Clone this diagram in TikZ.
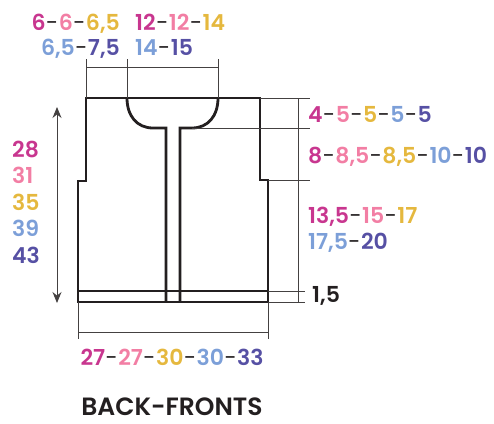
\documentclass[tikz,border=0pt]{standalone}
\usepackage{fontspec}
\setmainfont{Poppins}[BoldFont={Poppins SemiBold}]
\usetikzlibrary{arrows.meta}
\definecolor{sizeA}{HTML}{C8368F}
\definecolor{sizeB}{HTML}{F27EA4}
\definecolor{sizeC}{HTML}{E5B83E}
\definecolor{sizeD}{HTML}{7C9FD8}
\definecolor{sizeE}{HTML}{5650A4}
\definecolor{ink}{HTML}{231F20}
\newcommand{\sA}[1]{\textcolor{sizeA}{#1}}
\newcommand{\sB}[1]{\textcolor{sizeB}{#1}}
\newcommand{\sC}[1]{\textcolor{sizeC}{#1}}
\newcommand{\sD}[1]{\textcolor{sizeD}{#1}}
\newcommand{\sE}[1]{\textcolor{sizeE}{#1}}
\newcommand{\hy}{\textcolor{ink}{\mdseries\kern0.5pt-\kern0.5pt}}
\begin{document}
\begin{tikzpicture}[x=1pt,y=-1pt,outline/.style={draw=ink,line width=2.8pt,line join=miter},dim line/.style={draw=ink!85,line width=0.9pt},size label/.style={inner sep=0pt,text=ink,font=\fontsize{22}{26}\selectfont\bfseries}]
\useasboundingbox (0,0) rectangle (494,423);
% garment outline
\coordinate (tl) at (86,98);
\coordinate (tr) at (260,98);
\coordinate (rs) at (260,180);
\coordinate (rs2) at (268,180);
\coordinate (br) at (268,302);
\coordinate (bl) at (78,302);
\coordinate (ls) at (78,181);
\coordinate (ls2) at (86,181);
\coordinate (nl) at (127,98);
\coordinate (nr) at (218,98);
\coordinate (nlb) at (153,128);
\coordinate (nrb) at (192,128);
\coordinate (pl) at (166,128);
\coordinate (pr) at (180,128);
\coordinate (plb) at (166,302);
\coordinate (prb) at (180,302);
\coordinate (rl) at (78,291);
\coordinate (rr) at (268,291);

\draw[outline] (tl) -- (tr) -- (rs) -- (rs2) -- (br) -- (bl) -- (ls) -- (ls2) -- cycle;
\draw[outline] (nl) .. controls (127,116) and (137,128) .. (nlb) -- (pl) -- (plb);
\draw[outline] (nr) .. controls (218,116) and (208,128) .. (nrb) -- (pr) -- (prb);
\draw[outline,line width=2.3pt] (rl) -- (rr);

% top measures
\coordinate (e1) at (86,59);
\coordinate (e2) at (127,59);
\coordinate (e3) at (218,59);
\coordinate (d1) at (86,67);
\coordinate (d2) at (218,67);
\draw[dim line] (tl) -- (e1);
\draw[dim line] (nl) -- (e2);
\draw[dim line] (nr) -- (e3);
\draw[dim line] (d1) -- (d2);

% right measures
\coordinate (r1) at (310,98);
\coordinate (r2) at (310,128);
\coordinate (r3) at (310,180);
\coordinate (r4) at (305,291);
\coordinate (r5) at (305,302);
\coordinate (vt) at (298,98);
\coordinate (vb) at (298,302);
\draw[dim line] (tr) -- (r1);
\draw[dim line] (nrb) -- (r2);
\draw[dim line] (rs2) -- (r3);
\draw[dim line] (rr) -- (r4);
\draw[dim line] (br) -- (r5);
\draw[dim line] (vt) -- (vb);

% bottom measure
\coordinate (b1) at (78,339);
\coordinate (b2) at (268,339);
\coordinate (bd1) at (78,332);
\coordinate (bd2) at (268,332);
\draw[dim line] (bl) -- (b1);
\draw[dim line] (br) -- (b2);
\draw[dim line] (bd1) -- (bd2);

% length arrow
\coordinate (at) at (57,107);
\coordinate (ab) at (57,303);
\draw[dim line,{Stealth[length=11pt,width=9pt]}-{Stealth[length=11pt,width=9pt]}] (at) -- (ab);

% labels
\node[size label,anchor=base east] (shoulder) at (120,30) {\sA{6}\hy\sB{6}\hy\sC{6,5}};
\node[size label,anchor=base east] (shoulder2) at (120,55) {\sD{6,5}\hy\sE{7,5}};
\node[size label,anchor=base west] (neck) at (135,30) {\sA{12}\hy\sB{12}\hy\sC{14}};
\node[size label,anchor=base west] (neck2) at (135,55) {\sD{14}\hy\sE{15}};
\node[size label,anchor=base west] (neckdepth) at (308,122) {\sA{4}\hy\sB{5}\hy\sC{5}\hy\sD{5}\hy\sE{5}};
\node[size label,anchor=base west] (armhole) at (308,163) {\sA{8}\hy\sB{8,5}\hy\sC{8,5}\hy\sD{10}\hy\sE{10}};
\node[size label,anchor=base west] (side) at (308,223) {\sA{13,5}\hy\sB{15}\hy\sC{17}};
\node[size label,anchor=base west] (side2) at (308,249) {\sD{17,5}\hy\sE{20}};
\node[size label,anchor=base west] (rib) at (312,302) {1,5};
\node[size label,anchor=base west] (len1) at (12,157) {\sA{28}};
\node[size label,anchor=base west] (len2) at (12,183) {\sB{31}};
\node[size label,anchor=base west] (len3) at (12,210) {\sC{35}};
\node[size label,anchor=base west] (len4) at (12,236) {\sD{39}};
\node[size label,anchor=base west] (len5) at (12,263) {\sE{43}};
\node[size label,anchor=base] (width) at (172,365) {\sA{27}\hy\sB{27}\hy\sC{30}\hy\sD{30}\hy\sE{33}};
\node[size label,anchor=base,font=\fontsize{25}{29}\selectfont\bfseries] (title) at (172,415) {BACK-FRONTS};
\end{tikzpicture}
\end{document}
